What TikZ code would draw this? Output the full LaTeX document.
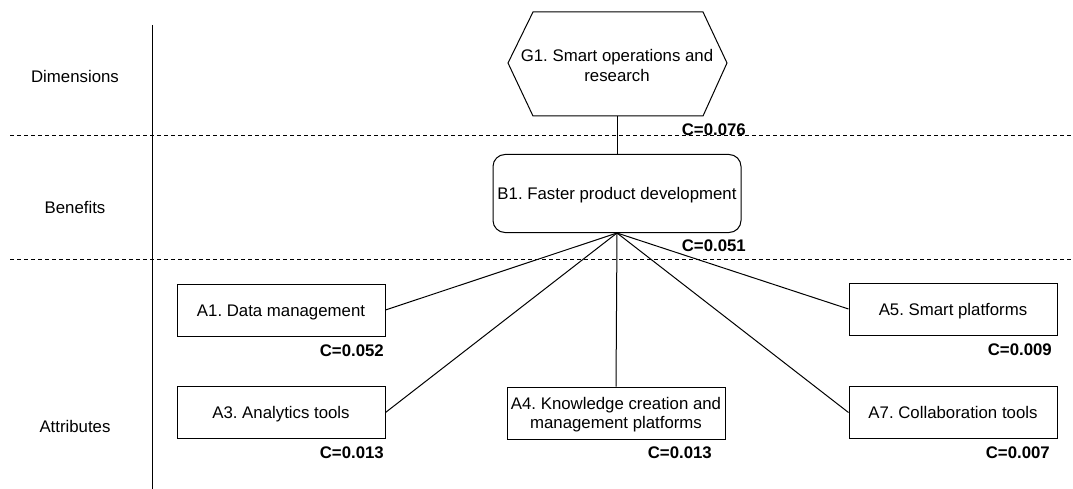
\documentclass[tikz,border=0pt]{standalone}
\usepackage{fontspec}
\setmainfont{Liberation Sans}
\begin{document}
\frenchspacing
\begin{tikzpicture}[x=1pt,y=-1pt,
  every node/.style={font=\fontsize{16.8}{19.5}\selectfont\frenchspacing, inner sep=0pt},
  attr/.style={draw, line width=1pt, minimum width=208pt, minimum height=52pt, align=center},
  oneline/.style={text height=12pt, text depth=0pt},
  cval/.style={font=\fontsize{16.8}{19.5}\selectfont\bfseries, anchor=east},
  lane/.style={anchor=center, text height=12pt, text depth=0pt},
  link/.style={line width=1pt},
  sep/.style={dashed, line width=1pt, dash pattern=on 4pt off 3pt}]
\useasboundingbox (0,0) rectangle (1073,489);
% lanes
\draw[line width=1pt] (152,25) -- (152,489);
\draw[sep] (10,136) -- (1073,136);
\draw[sep] (10,259) -- (1073,259);
\node[lane] (ldim) at (75,77) {Dimensions};
\node[lane] (lben) at (75,208) {Benefits};
\node[lane] (latt) at (75,426) {Attributes};
% G1 hexagon
\draw[line width=1pt] (533,12) -- (703,12) -- (727,63) -- (703,116) -- (533,116) -- (508,63) -- cycle;
\node[align=center] (G1) at (617,65.5) {G1. Smart operations and\\research};
\coordinate (G1b) at (617,116);
\node[cval] (cG1) at (746,130) {C=0.076};
% B1
\node[draw, line width=1pt, rounded corners=12pt, minimum width=248pt, minimum height=78pt, oneline] (B1) at (617,193.5) {B1. Faster product development};
\node[cval] (cB1) at (746,246) {C=0.051};
% attributes
\node[attr, oneline] (A1) at (281,310) {A1. Data management};
\node[cval] (cA1) at (384,351) {C=0.052};
\node[attr, oneline] (A3) at (281,412.5) {A3. Analytics tools};
\node[cval] (cA3) at (384,453) {C=0.013};
\node[attr, minimum width=218pt, text depth=0pt] (A4) at (616,413) {A4. Knowledge creation and\\management platforms};
\node[cval] (cA4) at (712,453) {C=0.013};
\node[attr, oneline] (A5) at (953,309) {A5. Smart platforms};
\node[cval] (cA5) at (1052,350) {C=0.009};
\node[attr, oneline] (A7) at (953,412.5) {A7. Collaboration tools};
\node[cval] (cA7) at (1050,453) {C=0.007};
% connectors
\draw[link] (G1b) -- (B1.north);
\draw[link] (B1.south) -- (A1.east);
\draw[link] (B1.south) -- (A3.east);
\draw[link] (B1.south) -- (A4.north);
\draw[link] (B1.south) -- (A5.west);
\draw[link] (B1.south) -- (A7.west);
\end{tikzpicture}
\end{document}
